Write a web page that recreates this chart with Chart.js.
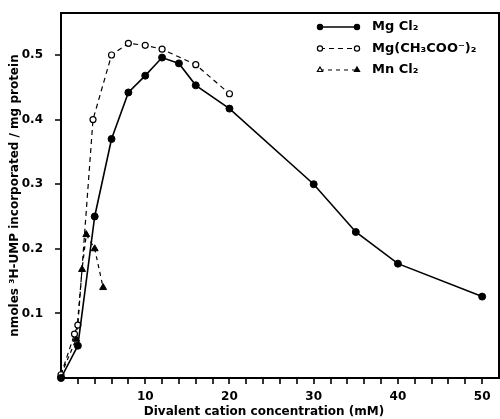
<!DOCTYPE html>
<html>
<head>
<meta charset="utf-8">
<script src="https://cdn.jsdelivr.net/npm/chart.js@4/dist/chart.umd.min.js"></script>
<style>
html,body{margin:0;padding:0;background:#fff;}
#wrap{width:500px;height:419px;position:relative;}
</style>
</head>
<body>
<div id="wrap"><canvas id="c" width="500" height="419"></canvas></div>
<script>
// ---- data ----
const seriesNames = ['Mg Cl\u2082', 'Mg(CH\u2083COO\u207B)\u2082', 'Mn Cl\u2082'];
const mgclX = [0, 2, 4, 6, 8, 10, 12, 14, 16, 20, 30, 35, 40, 50];
const mgclY = [0.0, 0.05, 0.25, 0.37, 0.442, 0.468, 0.496, 0.487, 0.453, 0.417, 0.30, 0.226, 0.177, 0.126];
const acetX = [0, 1.6, 2, 3.8, 6, 8, 10, 12, 16, 20];
const acetY = [0.005, 0.068, 0.082, 0.40, 0.50, 0.518, 0.515, 0.509, 0.485, 0.44];
const mnclX = [0, 1.8, 2.5, 3, 4, 5];
const mnclY = [0.005, 0.06, 0.168, 0.222, 0.20, 0.14];
const yTickValues = [0.1, 0.2, 0.3, 0.4, 0.5];
const xLabelValues = [10, 20, 30, 40, 50];
const xTitle = 'Divalent cation concentration (mM)';
const yTitle = 'nmoles \u00B3H-UMP incorporated / mg protein';

const pts = (xs, ys) => xs.map((x, i) => ({x: x, y: ys[i]}));
const FONT = "'DejaVu Sans', sans-serif";

const frameAndLegend = {
  id: 'frameAndLegend',
  afterDraw(chart) {
    const ctx = chart.ctx;
    const a = chart.chartArea;
    ctx.save();
    ctx.strokeStyle = '#000';
    ctx.lineWidth = 2;
    ctx.beginPath();
    ctx.moveTo(a.left, a.top);
    ctx.lineTo(a.right, a.top);
    ctx.lineTo(a.right, a.bottom);
    ctx.stroke();
    // tick marks from the library's scales
    ctx.lineWidth = 1.6;
    const xs = chart.scales.x, ys = chart.scales.y;
    ctx.beginPath();
    xs.ticks.forEach(t => {
      if (t.value <= xs.min || t.value >= xs.max) return;
      const px = Math.round(xs.getPixelForValue(t.value));
      ctx.moveTo(px, a.bottom); ctx.lineTo(px, a.bottom + 6);
    });
    ys.ticks.forEach(t => {
      const py = Math.round(ys.getPixelForValue(t.value));
      ctx.moveTo(a.left - 6, py); ctx.lineTo(a.left, py);
    });
    ctx.stroke();
    // legend
    const ds = chart.data.datasets;
    ds.forEach((d, i) => {
      const y = 27 + i * 21.5;
      const x1 = 320, x2 = 357;
      ctx.strokeStyle = '#000';
      ctx.fillStyle = '#000';
      ctx.lineWidth = d.borderWidth;
      ctx.setLineDash(d.borderDash || []);
      ctx.beginPath();
      ctx.moveTo(x1, y); ctx.lineTo(x2, y); ctx.stroke();
      ctx.setLineDash([]);
      [x1, x2].forEach((x, k) => {
        let filled = d.pointBackgroundColor === '#000';
        if (d.pointStyle === 'triangle') filled = (k === 1);
        ctx.fillStyle = filled ? '#000' : '#fff';
        ctx.lineWidth = 1.2;
        Chart.helpers.drawPoint(ctx, {pointStyle: d.pointStyle, radius: d.pointStyle === 'triangle' ? 3 : 2.6, borderWidth: 1.2, rotation: 0}, x, y);
      });
      ctx.fillStyle = '#000';
      ctx.font = "bold 13px " + FONT;
      ctx.textAlign = 'left';
      ctx.textBaseline = 'middle';
      ctx.fillText(d.label, 372, y);
    });
    // x title
    ctx.font = "bold 12px " + FONT;
    ctx.textAlign = 'center';
    ctx.textBaseline = 'middle';
    ctx.fillText(xTitle, 264, 412);
    ctx.restore();
  }
};

new Chart(document.getElementById('c'), {
  type: 'scatter',
  data: {
    datasets: [
      {label: seriesNames[0], data: pts(mgclX, mgclY), showLine: true, borderColor: '#000', borderWidth: 1.6,
       pointStyle: 'circle', pointRadius: 3.5, pointBackgroundColor: '#000', pointBorderColor: '#000', pointBorderWidth: 1},
      {label: seriesNames[1], data: pts(acetX, acetY), showLine: true, borderColor: '#000', borderWidth: 1.2, borderDash: [5, 4],
       pointStyle: 'circle', pointRadius: 3, pointBackgroundColor: '#fff', pointBorderColor: '#000', pointBorderWidth: 1.2},
      {label: seriesNames[2], data: pts(mnclX, mnclY), showLine: true, borderColor: '#000', borderWidth: 1.2, borderDash: [4, 4],
       pointStyle: 'triangle', pointRadius: 4, pointBackgroundColor: '#000', pointBorderColor: '#000', pointBorderWidth: 1}
    ]
  },
  options: {
    responsive: false,
    animation: false,
    clip: false,
    layout: {autoPadding: false, padding: {top: 13, right: 1, left: 0, bottom: 0}},
    plugins: {legend: {display: false}, tooltip: {enabled: false}},
    scales: {
      x: {
        type: 'linear', min: 0, max: 52,
        afterFit(s) { s.height = 41; s.paddingRight = 0; s.paddingLeft = 0; },
        border: {display: true, color: '#000', width: 2},
        grid: {display: false},
        ticks: {
          stepSize: 2, autoSkip: false, maxRotation: 0, padding: 4, color: '#000',
          font: {family: FONT, size: 12, weight: 'bold'},
          callback: v => xLabelValues.includes(v) ? String(v) : ''
        }
      },
      y: {
        type: 'linear', min: 0, max: 0.565,
        afterFit(s) { s.width = 61; s.paddingTop = 0; s.paddingBottom = 0; },
        afterBuildTicks(s) { s.ticks = yTickValues.map(v => ({value: v})); },
        border: {display: true, color: '#000', width: 2},
        grid: {display: false},
        ticks: {
          padding: 10, color: '#000',
          font: {family: FONT, size: 12, weight: 'bold'},
          callback: v => v.toFixed(1)
        },
        title: {display: true, text: yTitle, color: '#000', padding: {top: 8, bottom: 0},
          font: {family: FONT, size: 12, weight: 'bold'}}
      }
    }
  },
  plugins: [frameAndLegend]
});
</script>
</body>
</html>
